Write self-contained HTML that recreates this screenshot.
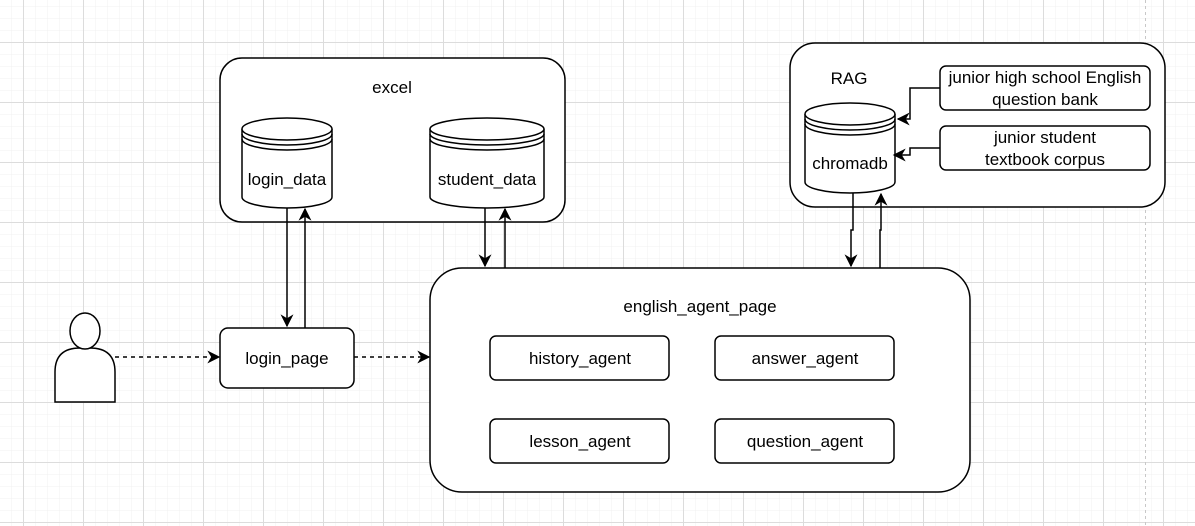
<!DOCTYPE html>
<html><head><meta charset="utf-8"><style>
html,body{margin:0;padding:0;background:#fff;}
svg{display:block;font-family:"Liberation Sans",Arial,sans-serif;}
</style></head><body>
<svg width="1195" height="526" viewBox="0 0 1195 526" xmlns="http://www.w3.org/2000/svg">
<defs>
<pattern id="minor" x="11" y="6" width="12" height="12" patternUnits="userSpaceOnUse">
<path d="M0 0H12M0 0V12" stroke="#f0f0f0" stroke-width="1" fill="none"/>
</pattern>
<pattern id="major" x="23" y="42" width="60" height="60" patternUnits="userSpaceOnUse">
<path d="M0 0.5H60M0.5 0V60" stroke="#dcdcdc" stroke-width="1" fill="none"/>
</pattern>
<marker id="ar" viewBox="0 0 10 10" refX="9" refY="5" markerWidth="13" markerHeight="13" markerUnits="userSpaceOnUse" orient="auto">
<path d="M0 0L10 5L0 10L3 5Z" fill="#000"/>
</marker>
</defs>
<rect width="1195" height="526" fill="#fff"/>
<rect width="1195" height="526" fill="url(#minor)"/>
<rect width="1195" height="526" fill="url(#major)"/>
<line x1="1145.5" y1="0" x2="1145.5" y2="526" stroke="#c8c8c8" stroke-dasharray="3,3"/>

<g stroke="#000" stroke-width="1.5" fill="#fff">
<rect x="220" y="58" width="345" height="164" rx="22"/>
<rect x="790" y="43" width="375" height="164" rx="25"/>
<rect x="430" y="268" width="540" height="224" rx="32"/>
<rect x="220" y="328" width="134" height="60" rx="8"/>
<rect x="490" y="336" width="179" height="44" rx="6"/>
<rect x="715" y="336" width="179" height="44" rx="6"/>
<rect x="490" y="419" width="179" height="44" rx="6"/>
<rect x="715" y="419" width="179" height="44" rx="6"/>
<rect x="940" y="66" width="210" height="44" rx="6"/>
<rect x="940" y="126" width="210" height="44" rx="6"/>
</g>

<g stroke="#000" stroke-width="1.5" fill="#fff">
<path d="M242 129 V197 A45 11 0 0 0 332 197 V129"/>
<ellipse cx="287" cy="129" rx="45" ry="11"/>
<path d="M242 134 A45 11 0 0 0 332 134 M242 139 A45 11 0 0 0 332 139" fill="none"/>

<path d="M430 129 V197 A57 11 0 0 0 544 197 V129"/>
<ellipse cx="487" cy="129" rx="57" ry="11"/>
<path d="M430 134 A57 11 0 0 0 544 134 M430 139 A57 11 0 0 0 544 139" fill="none"/>

<path d="M805 114 V182 A45 11 0 0 0 895 182 V114"/>
<ellipse cx="850" cy="114" rx="45" ry="11"/>
<path d="M805 119 A45 11 0 0 0 895 119 M805 124 A45 11 0 0 0 895 124" fill="none"/>
</g>

<g stroke="#000" stroke-width="1.5" fill="#fff">
<path d="M55 402 V372 Q55 348 80 348 H90 Q115 348 115 372 V402 Z"/>
<ellipse cx="85" cy="331" rx="15" ry="18"/>
</g>

<g stroke="#000" stroke-width="1.5" fill="none">
<path d="M115 357 H219" stroke-dasharray="4,4" marker-end="url(#ar)"/>
<path d="M354 357 H429" stroke-dasharray="4,4" marker-end="url(#ar)"/>
<path d="M287 208 V326" marker-end="url(#ar)"/>
<path d="M305 328 V209" marker-end="url(#ar)"/>
<path d="M485 208 V266" marker-end="url(#ar)"/>
<path d="M505 268 V209" marker-end="url(#ar)"/>
<path d="M853 193 V230 H851 V266" marker-end="url(#ar)"/>
<path d="M880 268 V230 H881 V194" marker-end="url(#ar)"/>
<path d="M940 88 H910 V119 H898" marker-end="url(#ar)"/>
<path d="M940 148 H910 V155 H894" marker-end="url(#ar)"/>
</g>

<g font-size="17" fill="#000" text-anchor="middle">
<text x="392" y="93">excel</text>
<text x="287" y="185">login_data</text>
<text x="487" y="185">student_data</text>
<text x="849" y="84">RAG</text>
<text x="850" y="169">chromadb</text>
<text x="1045" y="83">junior high school English</text>
<text x="1045" y="105">question bank</text>
<text x="1045" y="143">junior student</text>
<text x="1045" y="165">textbook corpus</text>
<text x="287" y="364">login_page</text>
<text x="700" y="312">english_agent_page</text>
<text x="580" y="364">history_agent</text>
<text x="805" y="364">answer_agent</text>
<text x="580" y="447">lesson_agent</text>
<text x="805" y="447">question_agent</text>
</g>
</svg>
</body></html>
